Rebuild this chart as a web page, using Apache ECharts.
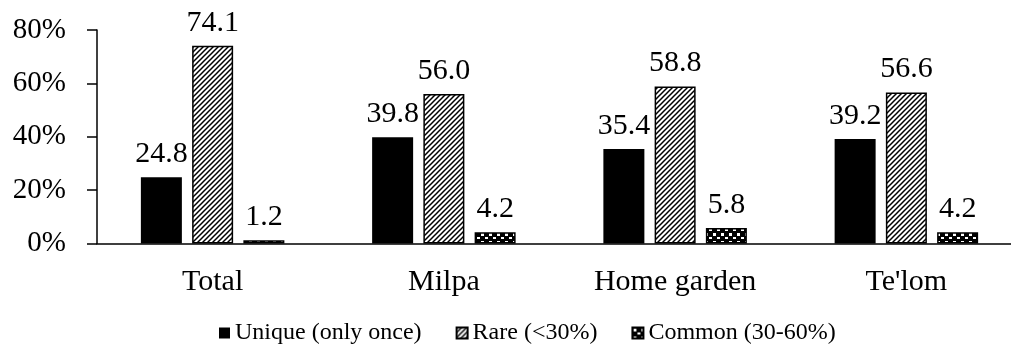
<!DOCTYPE html>
<html>
<head>
<meta charset="utf-8">
<script src="https://cdn.jsdelivr.net/npm/echarts@6/dist/echarts.min.js"></script>
<style>
  html, body { margin: 0; padding: 0; background: #fff; overflow: hidden; }
  /* the plot area runs slightly past the right edge of the window */
  #chart { width: 1022px; height: 352px; }
</style>
</head>
<body>
<div id="chart"></div>
<script>
const categories = ['Total', 'Milpa', 'Home garden', "Te'lom"];
const uniqueShare = [24.8, 39.8, 35.4, 39.2];
const rareShare = [74.1, 56.0, 58.8, 56.6];
const commonShare = [1.2, 4.2, 5.8, 4.2];
const seriesNames = ['Unique (only once)', 'Rare (<30%)', 'Common (30-60%)'];
const yTicks = [0, 20, 40, 60, 80];

const FONT = "'Liberation Serif', 'Times New Roman', serif";

// Diagonal "/" hatch tile
function hatchPattern() {
  const c = document.createElement('canvas');
  c.width = 5; c.height = 5;
  const g = c.getContext('2d');
  g.fillStyle = '#fff';
  g.fillRect(0, 0, 5, 5);
  g.strokeStyle = '#000';
  g.lineWidth = 1.5;
  g.beginPath();
  g.moveTo(-1, 6); g.lineTo(6, -1);
  g.moveTo(-6, 6); g.lineTo(1, -1);
  g.moveTo(4, 6); g.lineTo(11, -1);
  g.stroke();
  return c;
}

// Dotted/confetti style tile
function dotPattern() {
  const c = document.createElement('canvas');
  c.width = 8; c.height = 8;
  const g = c.getContext('2d');
  g.fillStyle = '#000';
  g.fillRect(0, 0, 8, 8);
  g.fillStyle = '#fff';
  g.fillRect(1, 1, 3, 3);
  g.fillRect(5, 5, 3, 2);
  return c;
}

const labelStyle = {
  show: true,
  position: 'top',
  distance: 8,
  color: '#000',
  fontFamily: FONT,
  fontSize: 30,
  formatter: p => p.value.toFixed(1)
};

const chart = echarts.init(document.getElementById('chart'), null, { renderer: 'canvas' });

chart.setOption({
  animation: false,
  backgroundColor: '#fff',
  textStyle: { fontFamily: FONT },
  grid: { left: 97, top: 30, right: 0, bottom: 108.5, containLabel: false },
  legend: {
    left: 214,
    top: 316,
    itemWidth: 11,
    itemHeight: 11,
    itemGap: 34,
    icon: 'rect',
    textStyle: { fontFamily: FONT, fontSize: 24, color: '#000' },
    data: seriesNames
  },
  xAxis: {
    type: 'category',
    data: categories,
    axisLine: { lineStyle: { color: '#000', width: 1.5 } },
    axisTick: { show: false },
    axisLabel: { color: '#000', fontFamily: FONT, fontSize: 30, margin: 24 }
  },
  yAxis: {
    type: 'value',
    min: yTicks[0],
    max: yTicks[yTicks.length - 1],
    interval: 20,
    splitLine: { show: false },
    axisLine: { show: true, lineStyle: { color: '#000', width: 1.5 } },
    axisTick: { show: true, length: 10, lineStyle: { color: '#000', width: 1.5 } },
    axisLabel: { color: '#000', fontFamily: FONT, fontSize: 29, margin: 31, formatter: '{value}%' }
  },
  series: [
    {
      name: seriesNames[0],
      type: 'bar',
      data: uniqueShare,
      barWidth: 41,
      barGap: '25%',
      itemStyle: { color: '#000' },
      label: labelStyle
    },
    {
      name: seriesNames[1],
      type: 'bar',
      data: rareShare,
      barWidth: 41,
      barGap: '25%',
      itemStyle: {
        color: { image: hatchPattern(), repeat: 'repeat' },
        borderColor: '#000',
        borderWidth: 1.5
      },
      label: labelStyle
    },
    {
      name: seriesNames[2],
      type: 'bar',
      data: commonShare,
      barWidth: 41,
      barGap: '25%',
      itemStyle: {
        color: { image: dotPattern(), repeat: 'repeat' },
        borderColor: '#000',
        borderWidth: 1.5
      },
      label: labelStyle
    }
  ]
});
</script>
</body>
</html>
